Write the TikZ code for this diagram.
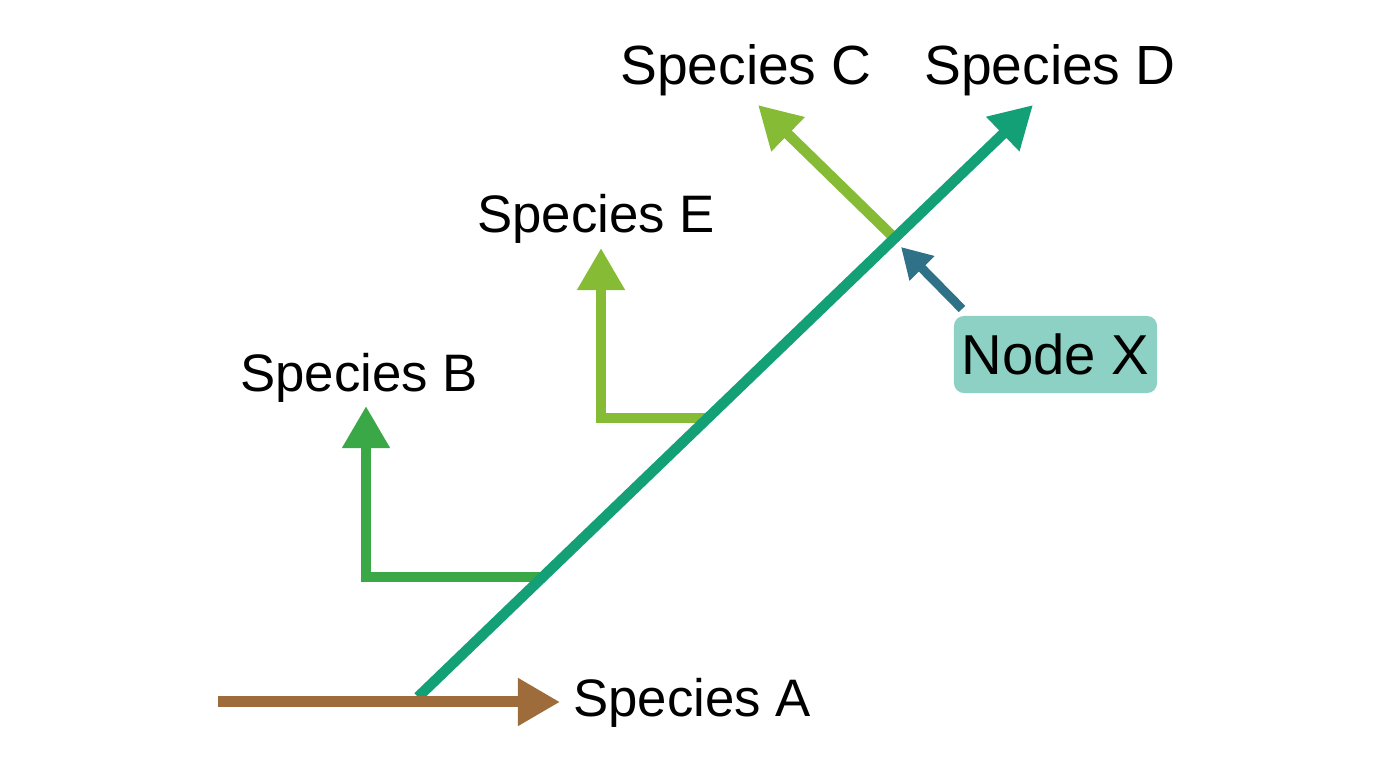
\documentclass[tikz,border=0pt]{standalone}
\usepackage{fontspec}
\setmainfont{Liberation Sans}
\usepackage{xcolor}
\usepackage{tikz}
\usetikzlibrary{positioning}
\usetikzlibrary{calc}
\usetikzlibrary{arrows.meta}

\definecolor{brownA}{HTML}{9E6C3B}
\definecolor{greenD}{HTML}{13A077}
\definecolor{greenB}{HTML}{3AA847}
\definecolor{limeCE}{HTML}{86BC35}
\definecolor{tealX}{HTML}{2F7288}
\definecolor{boxX}{HTML}{8CD1C3}

\tikzset{
  lineage/.style={line width=0.105cm,-{Triangle[length=0.42cm,width=0.45cm]}},
  pointer/.style={line width=0.09cm,-{Triangle[length=0.3cm,width=0.33cm]},tealX},
  spname/.style={font=\fontsize{15pt}{18pt}\selectfont,anchor=base,inner sep=0pt},
  sptop/.style={spname,font=\fontsize{15.7pt}{19pt}\selectfont},
  xbox/.style={fill=boxX,rounded corners=0.1cm,minimum width=2.03cm,minimum height=0.77cm,
    inner sep=0pt,font=\fontsize{16pt}{19pt}\selectfont}
}

\begin{document}
\begin{tikzpicture}[x=0.01cm,y=-0.01cm]
\useasboundingbox (0,0) rectangle (1376,768);

\coordinate (root) at (418,697);
\coordinate (startA) at (218,702);
\coordinate (tipA) at (560,702);
\coordinate (tipD) at (1033,105);
\coordinate (forkB) at ($(root)!0.2027!(tipD)$);
\coordinate (tipB) at (366,406);
\coordinate (cornerB) at (tipB |- forkB);
\coordinate (forkE) at ($(root)!0.4713!(tipD)$);
\coordinate (tipE) at (601,248);
\coordinate (cornerE) at (tipE |- forkE);
\coordinate (forkC) at ($(root)!0.775!(tipD)$);
\coordinate (tipC) at (758,105);
\coordinate (fromX) at (962,309);
\coordinate (toX) at (901,247);

\node[spname] (spA) at (692,717) {Species A};
\node[spname] (spB) at (359,392) {Species B};
\node[spname] (spE) at (596,233) {Species E};
\node[sptop] (spC) at (746,85) {Species C};
\node[sptop] (spD) at (1050,85) {Species D};
\node[xbox] (nodeX) at (1055.5,354.5) {Node X};

\draw[lineage,greenB] (forkB) -- (cornerB) -- (tipB);
\draw[lineage,limeCE] (forkE) -- (cornerE) -- (tipE);
\draw[lineage,limeCE] (forkC) -- (tipC);
\draw[lineage,greenD] (root) -- (tipD);
\draw[lineage,brownA,line width=0.11cm] (startA) -- (tipA);
\draw[pointer] (fromX) -- (toX);
\end{tikzpicture}
\end{document}
